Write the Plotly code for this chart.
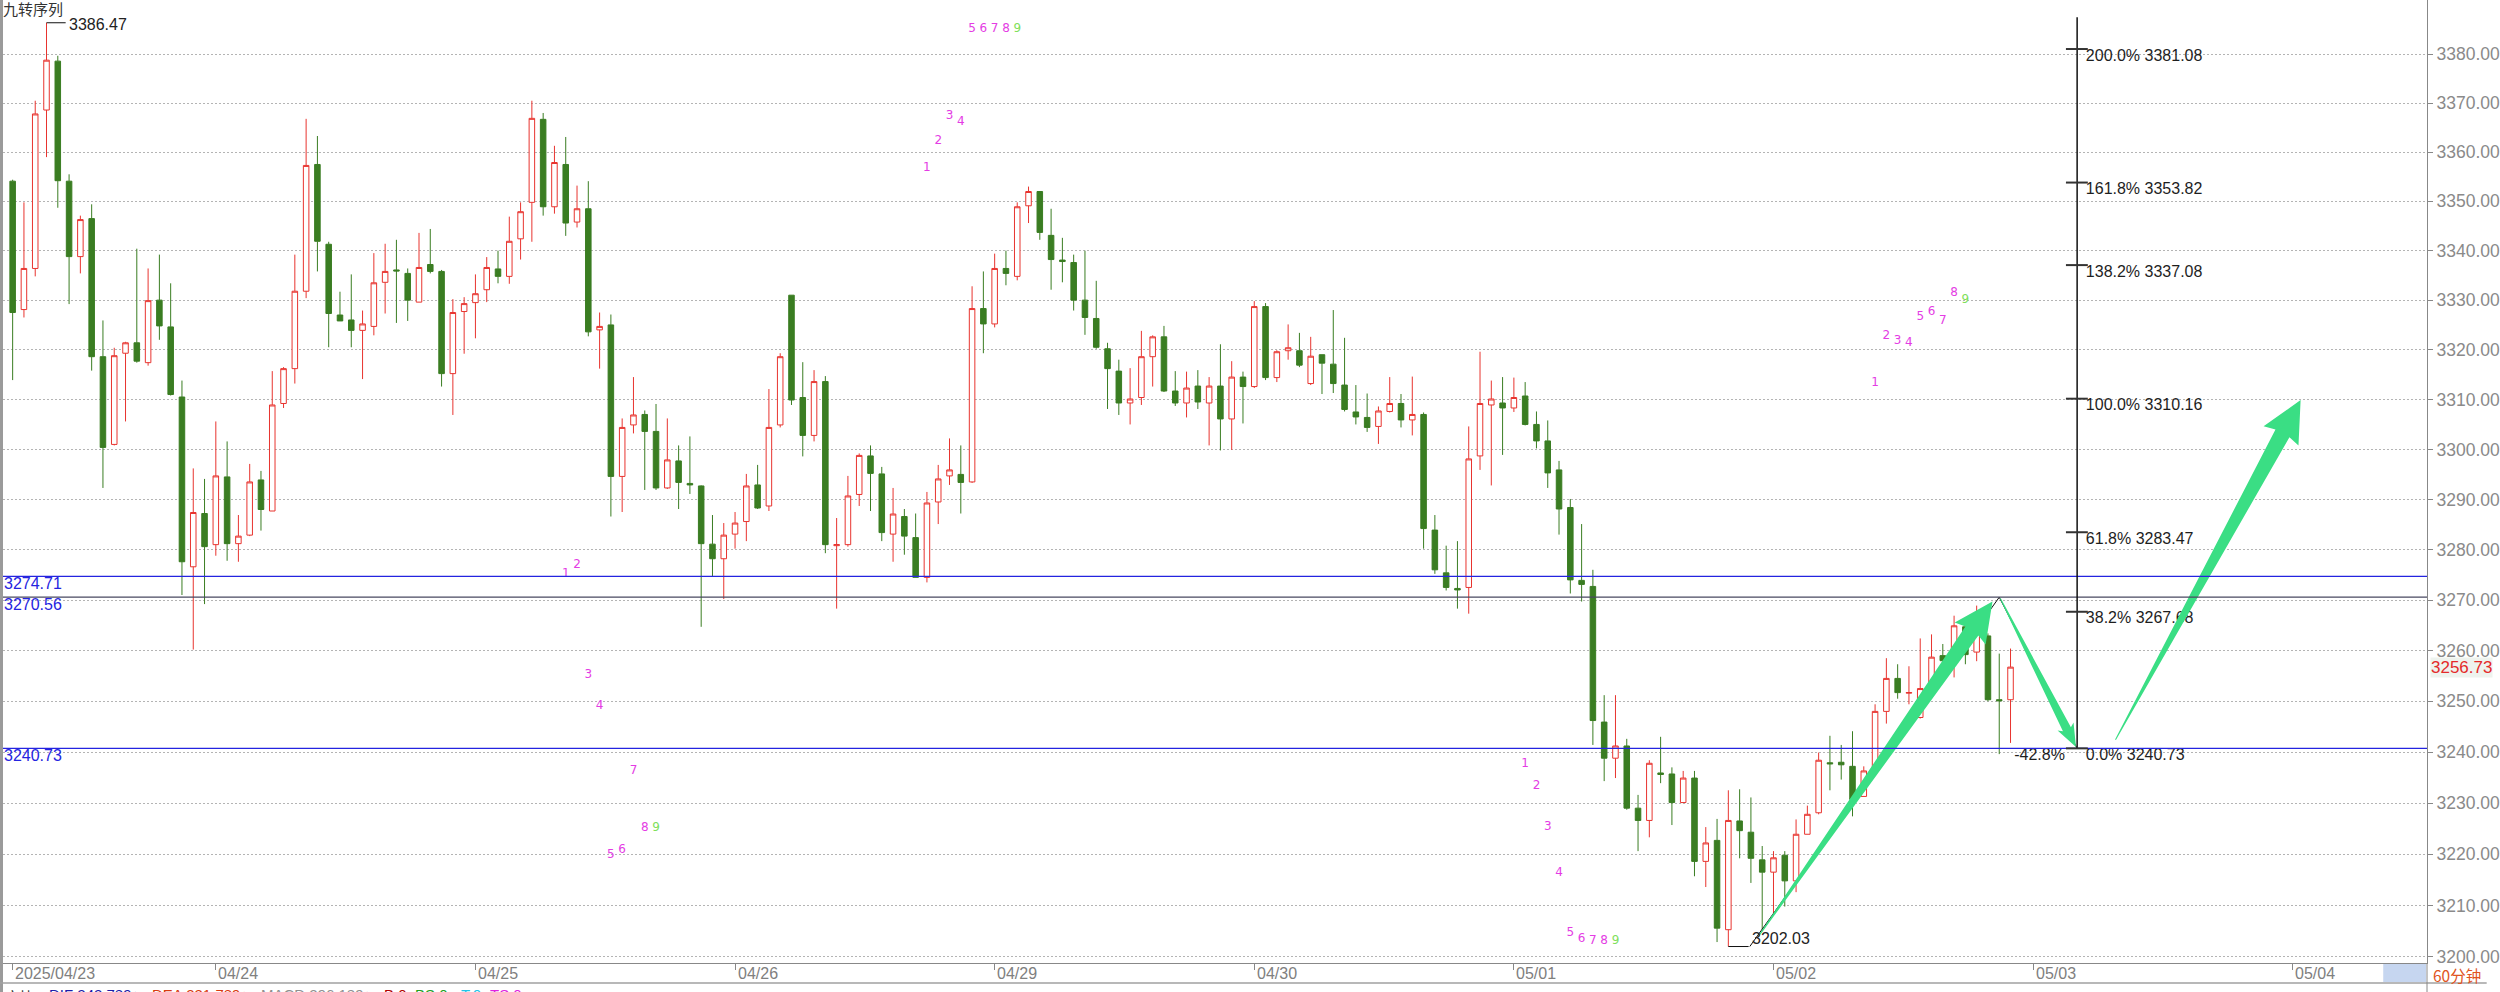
import math
import plotly.graph_objects as go

# ---------------- data ----------------
candle_idx = list(range(178))
opens = [
    3354.1, 3328.1, 3336.4, 3368.6, 3378.6, 3354.1, 3338.8, 3346.5, 3318.6, 3301.0,
    3319.3, 3321.4, 3317.4, 3330.0, 3324.6, 3310.5, 3276.6, 3287.2, 3281.0, 3294.5,
    3281.2, 3282.9, 3293.9, 3287.7, 3309.2, 3316.2, 3331.8, 3357.5, 3341.3, 3327.0,
    3326.0, 3323.9, 3324.7, 3333.6, 3336.1, 3335.4, 3329.6, 3337.2, 3335.8, 3315.2,
    3327.7, 3329.5, 3332.1, 3336.3, 3334.8, 3342.4, 3349.8, 3366.7, 3348.9, 3357.5,
    3345.8, 3348.5, 3324.0, 3325.0, 3294.6, 3304.9, 3307.0, 3303.6, 3292.3, 3297.7,
    3293.2, 3292.7, 3281.1, 3278.2, 3283.1, 3285.6, 3292.9, 3288.7, 3304.9, 3331.0,
    3310.4, 3302.8, 3313.6, 3280.8, 3281.0, 3291.0, 3298.7, 3295.1, 3283.1, 3286.6,
    3282.4, 3274.5, 3289.5, 3294.7, 3295.0, 3293.5, 3328.3, 3325.2, 3336.4, 3334.8,
    3349.1, 3352.0, 3343.1, 3338.1, 3337.6, 3330.0, 3326.3, 3320.2, 3315.7, 3309.3,
    3310.4, 3318.6, 3322.6, 3311.7, 3309.3, 3312.7, 3309.3, 3312.7, 3306.1, 3314.5,
    3312.6, 3328.7, 3314.4, 3319.8, 3319.8, 3313.2, 3319.0, 3317.1, 3312.9, 3307.5,
    3306.4, 3304.6, 3307.6, 3309.2, 3305.9, 3307.0, 3283.9, 3275.4, 3272.3, 3272.5,
    3298.7, 3308.9, 3309.3, 3308.3, 3310.7, 3305.0, 3301.7, 3295.9, 3288.4, 3273.9,
    3272.7, 3245.9, 3238.8, 3241.2, 3229.0, 3226.6, 3235.9, 3235.7, 3230.1, 3234.9,
    3218.6, 3222.7, 3205.3, 3226.5, 3224.3, 3218.9, 3216.5, 3219.8, 3214.8, 3223.9,
    3228.1, 3237.9, 3238.0, 3237.2, 3231.3, 3236.3, 3248.0, 3254.5, 3251.6, 3246.8,
    3253.3, 3259.0, 3258.7, 3264.7, 3259.7, 3262.9, 3250.3, 3250.3,
]
highs = [
    3354.4, 3349.8, 3370.5, 3386.47, 3379.7, 3355.5, 3347.1, 3349.4, 3325.9, 3320.4,
    3321.6, 3340.4, 3336.4, 3339.2, 3333.4, 3313.8, 3296.2, 3294.1, 3305.6, 3301.6,
    3286.9, 3297.1, 3295.7, 3315.7, 3316.5, 3339.2, 3366.8, 3363.3, 3341.8, 3331.7,
    3335.2, 3327.9, 3339.5, 3341.4, 3342.2, 3336.4, 3343.6, 3344.4, 3336.1, 3330.2,
    3330.6, 3335.2, 3338.7, 3340.0, 3346.9, 3349.8, 3370.5, 3368.0, 3361.3, 3363.1,
    3353.2, 3354.1, 3327.5, 3327.1, 3306.2, 3314.5, 3307.8, 3309.1, 3306.2, 3300.8,
    3302.6, 3292.8, 3286.9, 3285.3, 3287.5, 3295.1, 3296.9, 3312.1, 3319.3, 3331.0,
    3317.5, 3315.9, 3314.7, 3286.3, 3294.7, 3299.2, 3300.8, 3296.5, 3292.3, 3288.1,
    3287.2, 3291.5, 3296.9, 3302.2, 3300.8, 3332.8, 3335.8, 3339.4, 3340.0, 3349.8,
    3353.0, 3352.0, 3348.5, 3342.6, 3339.2, 3340.0, 3333.9, 3321.4, 3318.0, 3316.3,
    3323.8, 3322.9, 3324.8, 3315.7, 3315.6, 3315.9, 3314.5, 3321.1, 3317.7, 3315.6,
    3329.8, 3329.4, 3319.9, 3325.1, 3323.4, 3322.6, 3319.0, 3328.0, 3322.4, 3312.9,
    3311.2, 3308.6, 3314.5, 3311.1, 3314.6, 3307.4, 3286.9, 3280.8, 3281.7, 3304.6,
    3319.6, 3313.8, 3314.5, 3314.4, 3313.5, 3307.6, 3305.8, 3297.7, 3290.1, 3285.1,
    3276.0, 3251.2, 3251.2, 3242.6, 3231.6, 3238.4, 3243.0, 3237.0, 3236.3, 3236.3,
    3225.3, 3226.9, 3232.5, 3232.7, 3231.1, 3221.6, 3220.6, 3220.6, 3226.8, 3229.5,
    3239.9, 3243.2, 3241.4, 3244.1, 3237.2, 3249.4, 3258.5, 3257.3, 3256.9, 3262.4,
    3263.2, 3261.3, 3266.9, 3265.9, 3268.9, 3263.4, 3259.4, 3260.4,
]
lows = [
    3313.9, 3326.5, 3334.8, 3359.0, 3348.7, 3329.2, 3335.4, 3315.8, 3292.3, 3300.8,
    3305.6, 3317.4, 3316.8, 3322.0, 3310.8, 3271.0, 3260.2, 3269.2, 3278.8, 3277.8,
    3277.6, 3282.7, 3283.8, 3287.7, 3308.3, 3313.2, 3330.4, 3335.8, 3320.5, 3325.8,
    3320.5, 3314.1, 3322.9, 3327.3, 3325.4, 3325.8, 3329.6, 3335.4, 3312.6, 3306.9,
    3319.2, 3322.3, 3329.6, 3333.4, 3333.3, 3338.2, 3341.8, 3347.1, 3347.5, 3343.0,
    3344.7, 3322.7, 3316.2, 3286.6, 3287.5, 3303.2, 3291.9, 3291.9, 3292.1, 3288.1,
    3291.1, 3264.7, 3274.6, 3270.2, 3280.2, 3281.7, 3288.1, 3287.7, 3304.4, 3308.9,
    3298.6, 3301.6, 3279.3, 3268.3, 3280.6, 3288.7, 3287.7, 3281.7, 3277.6, 3279.0,
    3274.5, 3273.5, 3285.1, 3292.9, 3287.2, 3293.3, 3319.3, 3324.5, 3333.0, 3334.0,
    3345.6, 3342.2, 3332.1, 3333.6, 3327.9, 3323.0, 3320.2, 3308.1, 3306.9, 3305.0,
    3308.9, 3312.6, 3311.5, 3308.7, 3306.4, 3308.1, 3300.8, 3299.8, 3299.9, 3305.2,
    3312.3, 3313.9, 3313.5, 3318.0, 3316.5, 3312.9, 3311.1, 3311.3, 3307.6, 3305.0,
    3303.5, 3301.1, 3307.4, 3304.4, 3302.8, 3280.2, 3275.2, 3271.9, 3268.3, 3267.3,
    3295.9, 3292.8, 3298.9, 3307.5, 3304.8, 3300.2, 3292.3, 3283.0, 3271.3, 3269.7,
    3241.4, 3234.3, 3234.9, 3228.7, 3220.6, 3223.3, 3233.9, 3225.7, 3230.1, 3215.7,
    3213.6, 3202.9, 3202.03, 3219.2, 3214.4, 3205.3, 3208.3, 3209.8, 3212.6, 3223.9,
    3227.8, 3232.5, 3234.6, 3227.4, 3231.3, 3236.1, 3245.6, 3250.5, 3249.4, 3246.6,
    3252.0, 3257.0, 3254.7, 3257.3, 3257.9, 3250.0, 3239.6, 3241.8,
]
closes = [
    3327.5, 3336.4, 3367.8, 3378.8, 3354.2, 3338.8, 3346.3, 3318.6, 3300.4, 3318.8,
    3321.4, 3317.7, 3329.9, 3324.8, 3311.0, 3277.6, 3287.4, 3280.6, 3294.7, 3281.2,
    3282.7, 3293.5, 3288.0, 3308.9, 3316.2, 3331.8, 3357.3, 3341.9, 3327.3, 3325.8,
    3323.9, 3325.2, 3333.5, 3335.8, 3335.9, 3330.0, 3336.6, 3335.8, 3315.2, 3327.5,
    3329.3, 3331.3, 3336.6, 3334.8, 3341.9, 3347.9, 3366.9, 3348.9, 3357.9, 3345.6,
    3348.5, 3323.6, 3324.7, 3294.6, 3304.4, 3306.9, 3303.6, 3292.3, 3297.9, 3293.4,
    3292.9, 3281.2, 3278.2, 3282.9, 3285.3, 3292.7, 3288.3, 3304.4, 3318.6, 3309.9,
    3302.8, 3313.6, 3281.0, 3281.0, 3290.7, 3298.8, 3295.2, 3283.4, 3287.1, 3282.7,
    3274.5, 3289.3, 3294.1, 3295.9, 3293.4, 3328.3, 3325.2, 3336.4, 3335.4, 3348.9,
    3352.0, 3343.7, 3338.2, 3337.8, 3330.0, 3326.5, 3320.5, 3316.2, 3309.3, 3310.1,
    3318.6, 3322.6, 3311.7, 3309.3, 3312.3, 3309.5, 3312.7, 3306.1, 3314.5, 3312.6,
    3328.7, 3314.4, 3319.6, 3320.4, 3316.9, 3318.7, 3317.3, 3313.2, 3308.0, 3306.5,
    3304.4, 3307.7, 3309.2, 3305.9, 3307.0, 3284.2, 3276.0, 3272.5, 3272.0, 3298.1,
    3309.2, 3310.1, 3308.3, 3310.4, 3305.0, 3301.7, 3295.3, 3288.1, 3274.0, 3273.1,
    3246.2, 3238.8, 3241.2, 3229.0, 3226.6, 3237.8, 3235.6, 3230.1, 3234.9, 3218.6,
    3222.2, 3205.6, 3226.6, 3224.6, 3219.2, 3216.5, 3219.3, 3214.8, 3223.9, 3227.8,
    3238.4, 3237.7, 3237.5, 3230.7, 3236.3, 3248.0, 3254.5, 3251.7, 3251.7, 3252.5,
    3258.7, 3258.0, 3264.9, 3259.2, 3264.1, 3250.3, 3250.1, 3256.73,
]

day_labels = ['2025/04/23', '04/24', '04/25', '04/26', '04/29', '04/30',
              '05/01', '05/02', '05/03', '05/04']
day_first_candle = [0, 18, 41, 64, 87, 110, 133, 156, 179, 202]

y_tick_values = [3200, 3210, 3220, 3230, 3240, 3250, 3260, 3270, 3280, 3290,
                 3300, 3310, 3320, 3330, 3340, 3350, 3360, 3370, 3380]

level_values = [3274.71, 3270.56, 3240.73]
level_labels = ['3274.71', '3270.56', '3240.73']
level_colors = ['#2424e0', '#484860', '#2424e0']

fib_pct = ['200.0%', '161.8%', '138.2%', '100.0%', '61.8%', '38.2%', '0.0%']
fib_val = [3381.08, 3353.82, 3337.08, 3310.16, 3283.47, 3267.68, 3240.73]
fib_pos = 182.9          # candle-index position of the fib tool's vertical line
fib_top = 3387.6
retrace_label = '-42.8%'

# zig-zag wave drawn with the fib tool (index, price)
wave_idx = [153.9, 176.0, 182.9]
wave_val = [3202.03, 3270.56, 3240.73]

# green arrows: tail idx, tail price, tip idx, tip price
arrow_tail_idx = [154.7, 176.1, 186.3]
arrow_tail_val = [3204.1, 3270.3, 3242.4]
arrow_tip_idx = [175.4, 182.8, 202.7]
arrow_tip_val = [3269.7, 3241.0, 3309.9]

# TD "九转" counts
td_idx = [81, 82, 83, 84, 85, 86, 87, 88, 89,
          49, 50, 51, 52, 53, 54, 55, 56, 57,
          134, 135, 136, 137, 138, 139, 140, 141, 142,
          165, 166, 167, 168, 169, 170, 171, 172, 173]
td_val = [3356.7, 3362.2, 3367.4, 3366.1, 3385.1, 3385.1, 3385.1, 3385.1, 3385.1,
          3275.2, 3276.9, 3255.1, 3249.0, 3219.8, 3220.9, 3236.2, 3225.1, 3225.1,
          3237.7, 3233.3, 3225.4, 3216.4, 3204.7, 3203.5, 3203.2, 3203.2, 3203.2,
          3313.3, 3322.8, 3321.7, 3321.3, 3326.5, 3327.6, 3325.7, 3331.4, 3330.1]
td_num = ['1', '2', '3', '4', '5', '6', '7', '8', '9'] * 4

last_price = 3256.73
legend_items = ['宽比', 'DIF 243.789↑', 'DEA 231.789↑', 'MACD 296.189↓',
                'B:0', 'BS:0', 'T:0', 'TS:0']
legend_colors = ['#333333', '#1c1ca8', '#d83a10', '#909090',
                 '#b00000', '#22a022', '#22c4e8', '#e022e0']

# ---------------- geometry helpers ----------------
W, H = 2500, 992
PLOT_L, PLOT_R, PLOT_T, PLOT_B = 3, 2440, 0, 963
X0PX, DXPX = 12.7, 11.348
YREF_P, YREF_PX, KPX = 3380.0, 54.3, 16495.0


def i2px(i):
    return X0PX + DXPX * i


def px2i(px):
    return (px - X0PX) / DXPX


def p2py(p):
    return YREF_PX + KPX * math.log(YREF_P / p)


def py2p(py):
    return YREF_P * math.exp(-(py - YREF_PX) / KPX)


def paper_x(px):
    return (px - PLOT_L) / (PLOT_R - PLOT_L)


def paper_y(py):
    return 1 - (py - PLOT_T) / (PLOT_B - PLOT_T)


FONT = 'Liberation Sans, Arial, sans-serif'
CJK = 'Noto Sans CJK SC, sans-serif'
RED = '#e8342f'
GREEN = '#3a7d22'
BLUE = '#2424e0'
ARROW = '#3ade84'

fig = go.Figure()

fig.add_trace(go.Candlestick(
    x=candle_idx, open=opens, high=highs, low=lows, close=closes,
    increasing=dict(line=dict(color=RED, width=1), fillcolor='#ffffff'),
    decreasing=dict(line=dict(color=GREEN, width=1), fillcolor=GREEN),
    whiskerwidth=0, hoverinfo='skip', showlegend=False,
))

# fib level labels (under the arrows)
fig.add_trace(go.Scatter(
    x=[px2i(2097)] * len(fib_val),
    y=[py2p(p2py(v) + 7.5) for v in fib_val],
    mode='text', text=[f'{p} {v:.2f}' for p, v in zip(fib_pct, fib_val)],
    textposition='middle right',
    textfont=dict(family=FONT, size=16, color='#1e1e1e'),
    hoverinfo='skip', showlegend=False,
))
fig.add_trace(go.Scatter(
    x=[px2i(2025)], y=[py2p(p2py(fib_val[-1]) + 8)],
    mode='text', text=[retrace_label], textposition='middle right',
    textfont=dict(family=FONT, size=16, color='#1e1e1e'),
    hoverinfo='skip', showlegend=False,
))

# TD counts
mag_i = [i for i, n in zip(td_idx, td_num) if n != '9']
mag_v = [v for v, n in zip(td_val, td_num) if n != '9']
mag_t = [n for n in td_num if n != '9']
grn_i = [i for i, n in zip(td_idx, td_num) if n == '9']
grn_v = [v for v, n in zip(td_val, td_num) if n == '9']
fig.add_trace(go.Scatter(x=mag_i, y=mag_v, mode='text', text=mag_t,
                         textposition='middle center',
                         textfont=dict(family='DejaVu Sans', size=12, color='#e43ce4'),
                         hoverinfo='skip', showlegend=False))
fig.add_trace(go.Scatter(x=grn_i, y=grn_v, mode='text', text=['9'] * len(grn_i),
                         textposition='middle center',
                         textfont=dict(family='DejaVu Sans', size=12, color='#7ee05a'),
                         hoverinfo='skip', showlegend=False))

# zig-zag line (below arrows)
fig.add_trace(go.Scatter(x=wave_idx, y=wave_val, mode='lines',
                         line=dict(color='#111111', width=1),
                         hoverinfo='skip', showlegend=False))


def arrow_poly(ti, tv, hi, hv, w0, w1, hw, hl):
    x0, y0 = i2px(ti), p2py(tv)
    x1, y1 = i2px(hi), p2py(hv)
    L = math.hypot(x1 - x0, y1 - y0)
    dx, dy = (x1 - x0) / L, (y1 - y0) / L
    nx, ny = -dy, dx
    bx, by = x1 - dx * hl, y1 - dy * hl
    pts = [(x0 + nx * w0 / 2, y0 + ny * w0 / 2),
           (bx + nx * w1 / 2, by + ny * w1 / 2),
           (bx + nx * hw / 2 - dx * 3, by + ny * hw / 2 - dy * 3),
           (x1, y1),
           (bx - nx * hw / 2 - dx * 3, by - ny * hw / 2 - dy * 3),
           (bx - nx * w1 / 2, by - ny * w1 / 2),
           (x0 - nx * w0 / 2, y0 - ny * w0 / 2)]
    pts.append(pts[0])
    return [px2i(p[0]) for p in pts], [py2p(p[1]) for p in pts]


arrow_sizes = [(1.0, 16, 38, 36), (1.0, 9, 18, 20), (1.0, 16, 40, 38)]
for k in range(3):
    ax_, ay_ = arrow_poly(arrow_tail_idx[k], arrow_tail_val[k],
                          arrow_tip_idx[k], arrow_tip_val[k], *arrow_sizes[k])
    fig.add_trace(go.Scatter(x=ax_, y=ay_, mode='lines', fill='toself',
                             fillcolor=ARROW, line=dict(width=0, color=ARROW),
                             hoverinfo='skip', showlegend=False))

# horizontal level lines
x_left, x_right = px2i(PLOT_L), px2i(PLOT_R)
for v, c in zip(level_values, level_colors):
    fig.add_trace(go.Scatter(x=[x_left, x_right], y=[v, v], mode='lines',
                             line=dict(color=c, width=1.3),
                             hoverinfo='skip', showlegend=False))

# fib tool: vertical line and ticks
fig.add_trace(go.Scatter(x=[fib_pos, fib_pos], y=[fib_top, fib_val[-1]], mode='lines',
                         line=dict(color='#111111', width=1.5),
                         hoverinfo='skip', showlegend=False))
tick_x, tick_y = [], []
for v in fib_val:
    tick_x += [px2i(2077), px2i(2099), None]
    tick_y += [v, v, None]
fig.add_trace(go.Scatter(x=tick_x, y=tick_y, mode='lines',
                         line=dict(color='#333333', width=2),
                         hoverinfo='skip', showlegend=False))

# extreme price markers
imax = max(range(len(highs)), key=lambda i: highs[i])
imin = min(range(len(lows)), key=lambda i: lows[i])
fig.add_trace(go.Scatter(x=[imax, px2i(66)], y=[highs[imax]] * 2, mode='lines',
                         line=dict(color='#111111', width=1),
                         hoverinfo='skip', showlegend=False))
fig.add_trace(go.Scatter(x=[imin, px2i(1758)], y=[lows[imin]] * 2, mode='lines',
                         line=dict(color='#111111', width=1),
                         hoverinfo='skip', showlegend=False))

annotations = []


def ann(text, px, py, color='#222', size=16, family=FONT, xanchor='left',
        yanchor='middle', bg=None):
    d = dict(text=text, xref='paper', yref='paper', x=paper_x(px), y=paper_y(py),
             xanchor=xanchor, yanchor=yanchor, showarrow=False,
             font=dict(family=family, size=size, color=color), borderpad=0)
    if bg:
        d['bgcolor'] = bg
    annotations.append(d)


ann(f'{highs[imax]:.2f}', 68, p2py(highs[imax]) + 1.5)
ann(f'{lows[imin]:.2f}', 1760, p2py(lows[imin]) - 8)
for lab, v in zip(level_labels, level_values):
    ann(lab, 3, p2py(v) + 7, color=BLUE)
for lab, d in zip(day_labels, day_first_candle):
    ann(lab, i2px(d) + 1.5, 973, color='#808080')
ann('九转序列', 2, 8, color='#333333', size=15, family=CJK)
ann(f'{last_price:.2f}', 2443, p2py(last_price), color='#e42a2a', size=17, bg='#eef3ee')
ann('60分钟', 2445, 975, color='#e0541e', size=15.5, family=CJK)
leg_px = [4, 48, 152, 261, 385, 416, 462, 492]
for t, c, p in zip(legend_items, legend_colors, leg_px):
    ann(t, p, 985, color=c, size=15, family=CJK if t == '宽比' else FONT, yanchor='top')

shapes = [
    dict(type='rect', xref='paper', yref='paper', x0=paper_x(0), x1=paper_x(3),
         y0=paper_y(H), y1=1, fillcolor='#9a9a9a', line=dict(width=0), layer='above'),
    dict(type='line', xref='paper', yref='paper', x0=paper_x(0), x1=paper_x(W),
         y0=paper_y(983), y1=paper_y(983), line=dict(color='#a0a0a0', width=1.5)),
    dict(type='line', xref='paper', yref='paper', x0=1, x1=1,
         y0=paper_y(H), y1=0, line=dict(color='#888888', width=1)),
    dict(type='rect', xref='paper', yref='paper', x0=paper_x(2396), x1=paper_x(2439),
         y0=paper_y(982), y1=paper_y(964), fillcolor='#c6d6f0', line=dict(width=0)),
]

fig.update_layout(
    width=W, height=H, autosize=False,
    margin=dict(l=PLOT_L, r=W - PLOT_R, t=PLOT_T, b=H - PLOT_B, pad=0),
    paper_bgcolor='white', plot_bgcolor='white',
    showlegend=False, boxgap=0.3,
    annotations=annotations, shapes=shapes,
    xaxis=dict(range=[x_left, x_right], showgrid=False, zeroline=False,
               showline=True, linecolor='#888888', linewidth=1,
               tickvals=day_first_candle, ticks='outside', ticklen=6,
               tickcolor='#888888', showticklabels=False,
               rangeslider=dict(visible=False), fixedrange=True),
    yaxis=dict(type='log', side='right',
               range=[math.log10(py2p(PLOT_B)), math.log10(py2p(PLOT_T))],
               tickvals=y_tick_values, ticktext=[f'{v:.2f}' for v in y_tick_values],
               ticks='outside', ticklen=5, tickcolor='#888888',
               tickfont=dict(family=FONT, size=17.5, color='#8a8a8a'),
               showgrid=True, gridcolor='#b4b4b4', griddash='2px,2px', gridwidth=1,
               showline=True, linecolor='#888888', linewidth=1, zeroline=False,
               fixedrange=True),
)

fig.write_html('out.html', config={'displayModeBar': False},
               post_script="document.body.style.margin='0';document.body.style.overflow='hidden';")
